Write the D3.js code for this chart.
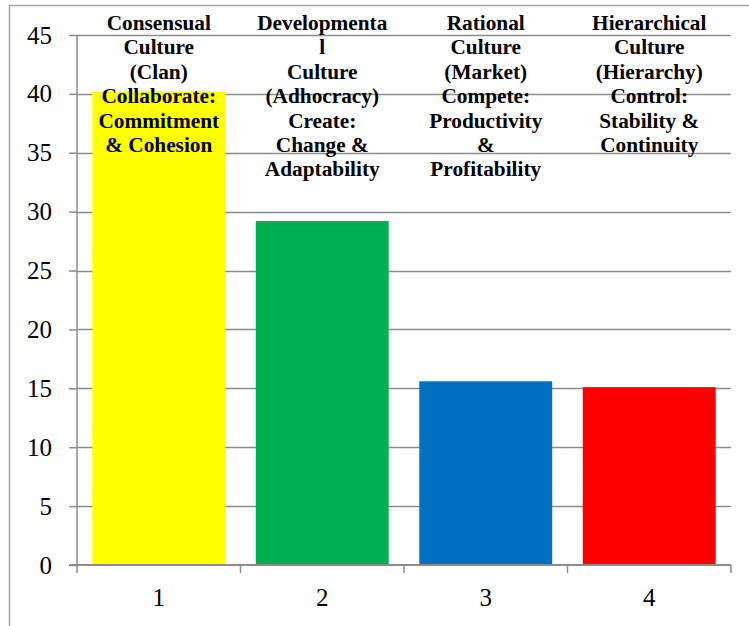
<!DOCTYPE html>
<html>
<head>
<meta charset="utf-8">
<script src="https://cdn.jsdelivr.net/npm/d3@7"></script>
<style>
  body { margin: 0; background: #fff; }
  svg { display: block; }
  svg text { font-family: "Liberation Serif", "Times New Roman", Times, serif; }
</style>
</head>
<body>
<div id="chart"></div>
<script>
// data
var categories = ["1", "2", "3", "4"];
var values = [40.2, 29.2, 15.6, 15.1];
var colors = ["#FFFF00", "#00B050", "#0070C0", "#FF0000"];
var headers = [
  ["Consensual", "Culture", "(Clan)", "Collaborate:", "Commitment", "& Cohesion"],
  ["Developmenta", "l", "Culture", "(Adhocracy)", "Create:", "Change &", "Adaptability"],
  ["Rational", "Culture", "(Market)", "Compete:", "Productivity", "&", "Profitability"],
  ["Hierarchical", "Culture", "(Hierarchy)", "Control:", "Stability &", "Continuity"]
];
var yTicks = [0, 5, 10, 15, 20, 25, 30, 35, 40, 45];

var width = 749, height = 626;
var margin = {top: 35, right: 18, bottom: 61, left: 77};
var plotW = width - margin.left - margin.right,
  plotH = height - margin.top - margin.bottom;

var svg = d3.select("#chart").append("svg")
  .attr("width", width).attr("height", height);

// outer frame
svg.append("rect")
  .attr("x", 9.5).attr("y", 5.5)
  .attr("width", width).attr("height", height)
  .attr("fill", "none").attr("stroke", "#a6a6a6").attr("stroke-width", 1.5);

var g = svg.append("g").attr("transform", "translate(" + margin.left + "," + margin.top + ")");

var x = d3.scaleBand().domain(categories).range([0, plotW]).paddingInner(0.187).paddingOuter(0.0935);
var y = d3.scaleLinear().domain([0, 45]).range([plotH, 0]);

// gridlines
g.selectAll(".grid").data(yTicks.slice(1)).enter()
  .append("line")
    .attr("x1", 0).attr("x2", plotW)
    .attr("y1", function(d){ return Math.round(y(d)) + 0.5; })
    .attr("y2", function(d){ return Math.round(y(d)) + 0.5; })
    .attr("stroke", "#8c8c8c").attr("stroke-width", 1.5);

// bars
g.selectAll(".bar").data(values).enter()
  .append("rect")
    .attr("class", "bar")
    .attr("x", function(d,i){ return x(categories[i]); })
    .attr("y", function(d){ return y(d); })
    .attr("width", x.bandwidth())
    .attr("height", function(d){ return plotH - y(d); })
    .attr("fill", function(d,i){ return colors[i]; });

// y axis
var yAxis = g.append("g")
  .call(d3.axisLeft(y).tickValues(yTicks).tickSize(8).tickPadding(17));
yAxis.attr("font-family", null);
yAxis.selectAll("line, path").attr("stroke", "#8c8c8c").attr("stroke-width", 1.5);
yAxis.select(".domain").attr("d", "M0," + plotH + "V0");
yAxis.selectAll("text")
  .attr("font-size", 25).attr("fill", "#000");

// x axis
var xEdges = d3.range(categories.length + 1).map(function(i){ return i * plotW / categories.length; });
var xAxis = g.append("g").attr("transform", "translate(0," + plotH + ")");
xAxis.append("line").attr("x1", -8).attr("x2", plotW)
  .attr("stroke", "#8c8c8c").attr("stroke-width", 2);
xAxis.selectAll(".xt").data(xEdges).enter()
  .append("line")
    .attr("x1", function(d){ return d; }).attr("x2", function(d){ return d; })
    .attr("y1", 0).attr("y2", 8)
    .attr("stroke", "#8c8c8c").attr("stroke-width", 1.5);
xAxis.selectAll(".xl").data(categories).enter()
  .append("text")
    .attr("x", function(d){ return x(d) + x.bandwidth() / 2; })
    .attr("y", 41)
    .attr("text-anchor", "middle")
    .attr("font-size", 25)
    .text(function(d){ return d; });

// header labels
var hdr = svg.selectAll(".hdr").data(headers).enter()
  .append("text")
    .attr("text-anchor", "middle")
    .attr("font-weight", "bold")
    .attr("font-size", 21.3)
    .attr("fill", "#000");
hdr.each(function(lines, i){
  var cx = margin.left + x(categories[i]) + x.bandwidth() / 2;
  d3.select(this).selectAll("tspan").data(lines).enter()
    .append("tspan")
      .attr("x", cx)
      .attr("y", function(d, j){ return 30 + j * 24.4; })
      .text(function(d){ return d; });
});
</script>
</body>
</html>
